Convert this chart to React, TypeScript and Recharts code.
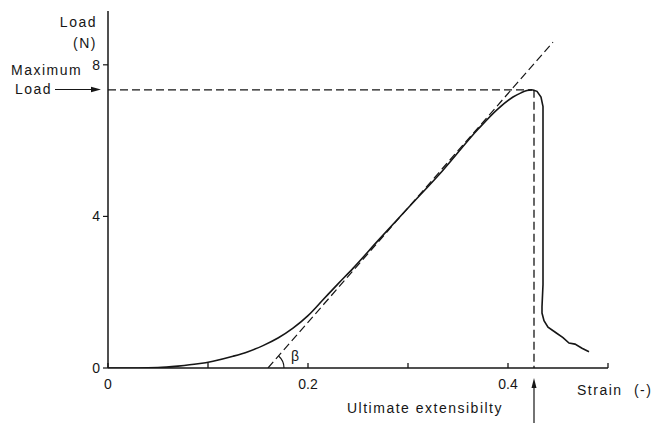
import { LineChart, Line, XAxis, YAxis } from 'recharts';

// strain (-) / load (N)
const strain = [
  0, 0.03, 0.05, 0.07, 0.09, 0.105, 0.125, 0.14, 0.155, 0.17, 0.185, 0.2, 0.215, 0.23, 0.245, 0.27,
  0.3, 0.335, 0.37, 0.39, 0.405, 0.413, 0.419, 0.424, 0.429, 0.433, 0.435, 0.435, 0.435, 0.434,
  0.434, 0.436, 0.44, 0.448, 0.455, 0.461, 0.467, 0.474, 0.481,
];
const load = [
  0, 0, 0.01, 0.05, 0.11, 0.18, 0.31, 0.43, 0.59, 0.79, 1.05, 1.38, 1.8, 2.22, 2.63, 3.36,
  4.22, 5.22, 6.3, 6.84, 7.15, 7.26, 7.32, 7.34, 7.3, 7.15, 6.9, 4.5, 2.2, 1.62,
  1.45, 1.25, 1.08, 0.93, 0.8, 0.66, 0.63, 0.52, 0.43,
];
const peakIndex = 23;

// tangent to the linear part, meeting the strain axis at angle beta
const tangentStrain = [0.16, 0.445];
const tangentLoad = [0, 8.6];

const maxLoad = 7.34;
const peakStrain = 0.424;
const ultimateStrain = 0.426;

const xTicks = [0, 0.1, 0.2, 0.3, 0.4, 0.5];
const xTickLabels = ['0', '', '0.2', '', '0.4', ''];
const yTicks = [0, 4, 8];

const INK = '#161616';
const FONT = '"Liberation Sans", Arial, sans-serif';

const curve = strain.map((x, i) => ({ x, y: load[i] }));
const rising = curve.slice(0, peakIndex + 1);
const falling = curve.slice(peakIndex);
const tangent = tangentStrain.map((x, i) => ({ x, y: tangentLoad[i] }));
const maxLine = [
  { x: 0, y: maxLoad },
  { x: peakStrain, y: maxLoad },
];
const ultLine = [
  { x: ultimateStrain, y: maxLoad },
  { x: ultimateStrain, y: 0 },
];

function StrainTick(props: any) {
  const { x, y, index } = props;
  const label = xTickLabels[index];
  return (
    <g>
      <line x1={x} y1={y} x2={x} y2={y - 5} stroke={INK} strokeWidth={1.3} />
      {label ? (
        <text x={x} y={y + 21} textAnchor="middle" fontSize={14} fill={INK} fontFamily={FONT}>
          {label}
        </text>
      ) : null}
    </g>
  );
}

export default function App() {
  const txt = { fontSize: 14, fill: INK, fontFamily: FONT, letterSpacing: 1.5 } as const;
  const dashed = { stroke: INK, strokeWidth: 1.3, strokeDasharray: '8 4' };
  return (
    <div style={{ position: 'relative', width: 657, height: 423, background: '#fff' }}>
      <style>{'body{margin:0}'}</style>
      <LineChart width={657} height={423} margin={{ top: 11, right: 49, bottom: 25, left: 0 }}>
        <XAxis
          type="number"
          dataKey="x"
          domain={[0, 0.5]}
          ticks={xTicks}
          allowDataOverflow
          height={30}
          tickLine={false}
          tickSize={0}
          tickMargin={0}
          axisLine={{ stroke: INK, strokeWidth: 1.5 }}
          tick={<StrainTick />}
        />
        <YAxis
          type="number"
          dataKey="y"
          domain={[0, 9.42]}
          ticks={yTicks}
          allowDataOverflow
          width={108}
          tickSize={5}
          tickMargin={3}
          axisLine={{ stroke: INK, strokeWidth: 1.5 }}
          tickLine={{ stroke: INK, strokeWidth: 1.2 }}
          tick={{ fontSize: 14, fill: INK, fontFamily: FONT }}
        />
        <Line data={maxLine} dataKey="y" type="linear" {...dashed} dot={false} isAnimationActive={false} />
        <Line data={ultLine} dataKey="y" type="linear" {...dashed} dot={false} isAnimationActive={false} />
        <Line
          data={tangent}
          dataKey="y"
          type="linear"
          {...dashed}
          strokeWidth={1.2}
          dot={false}
          isAnimationActive={false}
        />
        <Line
          data={rising}
          dataKey="y"
          type="monotone"
          stroke={INK}
          strokeWidth={1.6}
          dot={false}
          isAnimationActive={false}
        />
        <Line
          data={falling}
          dataKey="y"
          type="linear"
          stroke={INK}
          strokeWidth={1.6}
          dot={false}
          isAnimationActive={false}
        />
      </LineChart>
      <svg
        width={657}
        height={423}
        style={{ position: 'absolute', left: 0, top: 0, pointerEvents: 'none' }}
      >
        <text x={97} y={27} textAnchor="end" {...txt}>Load</text>
        <text x={97} y={48} textAnchor="end" {...txt}>(N)</text>
        <text x={11} y={75} {...txt}>Maximum</text>
        <text x={15} y={94} {...txt}>Load</text>
        <line x1={55} y1={89.5} x2={92} y2={89.5} stroke={INK} strokeWidth={1.2} />
        <polygon points="101,89.5 91,86.8 91,92.2" fill={INK} />
        <text x={577} y={395} {...txt} style={{ wordSpacing: 6 }}>Strain (-)</text>
        <text x={347} y={413} {...txt}>Ultimate extensibilty</text>
        <line x1={534} y1={423} x2={534} y2={386} stroke={INK} strokeWidth={1.2} />
        <polygon points="534,378 531.5,388 536.5,388" fill={INK} />
        <path d="M 284 368 A 16 16 0 0 0 278.6 356" fill="none" stroke={INK} strokeWidth={1.2} />
        <text x={291} y={361} fontSize={14} fill={INK} fontFamily={FONT}>β</text>
      </svg>
    </div>
  );
}
